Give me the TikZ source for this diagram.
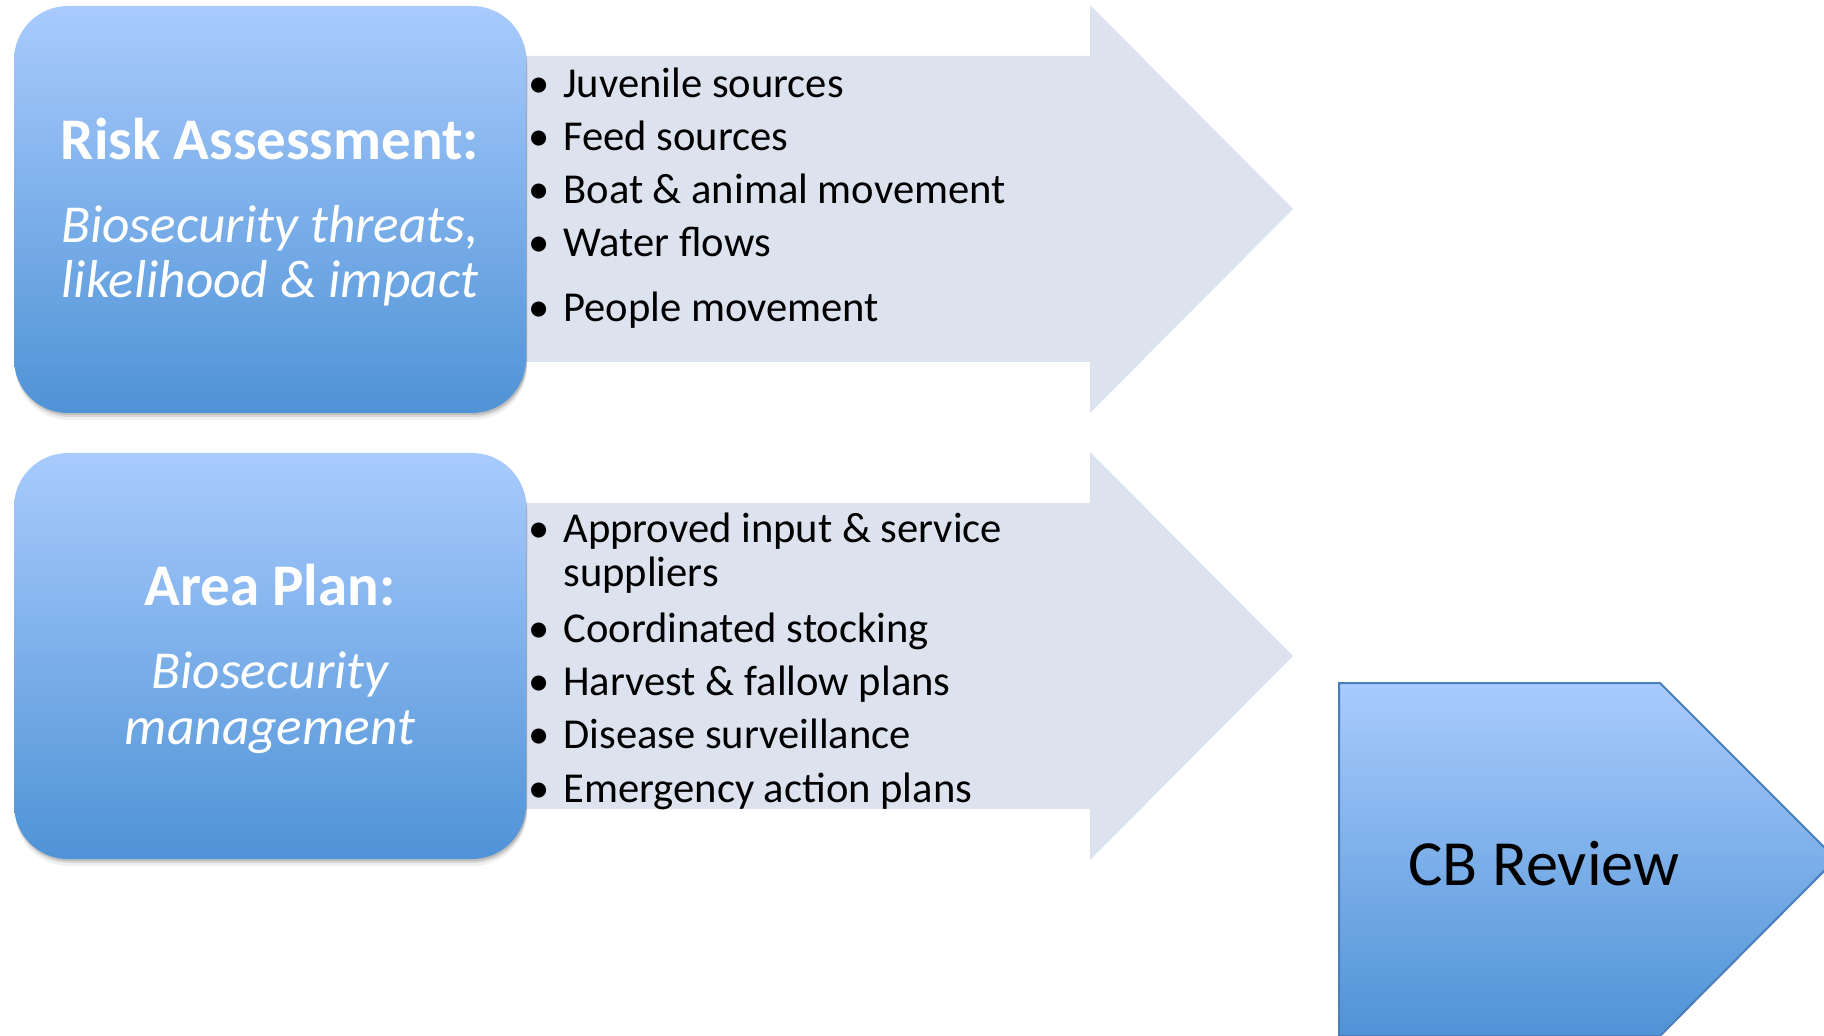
\documentclass[tikz,border=0pt]{standalone}
\usepackage{fontspec}
\setmainfont{Carlito}
\usetikzlibrary{shadows}
\definecolor{boxtop}{HTML}{A9CBFD}
\definecolor{boxbot}{HTML}{4F93D6}
\definecolor{band}{HTML}{DCE2EE}
\definecolor{rim}{HTML}{4A7EBB}

\begin{document}
\begin{tikzpicture}[x=0.5pt,y=-0.5pt,
    panel/.style={rounded corners=27pt,top color=boxtop,bottom color=boxbot,
        drop shadow={shadow xshift=0.5pt,shadow yshift=-1pt,opacity=0.12,fill=black},
        drop shadow={shadow xshift=0.5pt,shadow yshift=-2pt,opacity=0.1,fill=black},
        drop shadow={shadow xshift=0.5pt,shadow yshift=-3.5pt,opacity=0.06,fill=black}},
    head/.style={anchor=base,inner sep=0pt,text=white,font=\fontsize{29.5}{33}\selectfont\bfseries},
    sub/.style={anchor=base,inner sep=0pt,text=white,font=\fontsize{26.7}{30}\selectfont\itshape},
    item/.style={anchor=base west,inner sep=0pt,font=\fontsize{21.3}{25}\selectfont}]
    \useasboundingbox (0,0) rectangle (1824,1036);
    \clip (0,0) rectangle (1824,1036);
    % grey arrows
    \fill[band] (500,56) -- (1090,56) -- (1090,5) -- (1293,209) -- (1090,413) -- (1090,362) -- (500,362) -- cycle;
    \fill[band] (500,503) -- (1090,503) -- (1090,452) -- (1293,656) -- (1090,860) -- (1090,809) -- (500,809) -- cycle;
    % boxes
    \path[panel] (14,6) rectangle (526,413);
    \path[panel] (14,453) rectangle (526,859);
    \node[head] (risk) at (270,160) {Risk Assessment:};
    \node[sub] (threats) at (270,243) {Biosecurity threats,};
    \node[sub] (impact) at (270,298) {likelihood \& impact};
    \node[head] (area) at (270,605) {Area Plan:};
    \node[sub] (bio) at (270,688) {Biosecurity};
    \node[sub] (mgmt) at (270,744) {management};
    % bullet lists
    \foreach \y/\t [count=\i] in {98/Juvenile sources,151/Feed sources,204/Boat \& animal movement,
        257/Water flows,322/People movement,543/Approved input \& service,642/Coordinated stocking,
        695/Harvest \& fallow plans,748/Disease surveillance,802/Emergency action plans}{
        \node[item] (dot\i) at (528,\y) {•};
        \node[item] (txt\i) at (563,\y) {\t};
    }
    \node[item] (supp) at (563,587) {suppliers};
    % review
    \draw[rim,line width=1pt,top color=boxtop,bottom color=boxbot] (1339,683) -- (1660,683) -- (1836,859) -- (1660,1036) -- (1339,1036) -- cycle;
    \node[anchor=base,inner sep=0pt,font=\fontsize{32.2}{36}\selectfont] (cb) at (1544,885) {CB Review};
\end{tikzpicture}
\end{document}
